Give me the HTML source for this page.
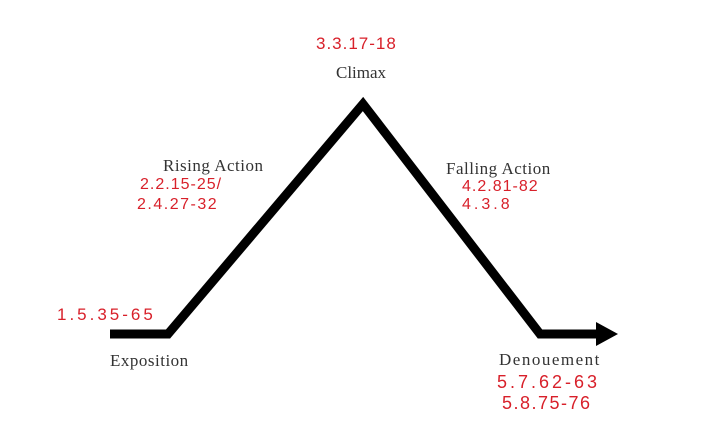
<!DOCTYPE html>
<html><head><style>
html,body{margin:0;padding:0;background:#fff;}
.w{position:relative;width:720px;height:434px;overflow:hidden;background:#fff;}
.t{position:absolute;font-family:"Liberation Serif",serif;color:#333;font-size:17px;white-space:nowrap;}
.r{position:absolute;font-family:"Liberation Sans",sans-serif;color:#d8202a;font-size:15px;white-space:nowrap;letter-spacing:1px;}
</style></head><body><div class="w">
<svg width="720" height="434" style="position:absolute;left:0;top:0">
<polyline points="110,334 168,334 363,104 540,334 598,334" fill="none" stroke="#000" stroke-width="9" stroke-linejoin="miter"/>
<polygon points="596,322 618,334 596,346" fill="#000"/>
</svg>
<div class="r" style="left:316px;top:34px;font-size:17px">3.3.17-18</div>
<div class="t" style="left:336px;top:63px">Climax</div>
<div class="t" style="left:163px;top:156px;letter-spacing:0.5px">Rising Action</div>
<div class="r" style="left:140px;top:176px;font-size:16px">2.2.15-25/</div>
<div class="r" style="left:137px;top:196px;font-size:16px;letter-spacing:1.5px">2.4.27-32</div>
<div class="t" style="left:446px;top:159px;letter-spacing:0.5px">Falling Action</div>
<div class="r" style="left:462px;top:178px;font-size:16px">4.2.81-82</div>
<div class="r" style="left:462px;top:196px;font-size:16px;letter-spacing:3px">4.3.8</div>
<div class="r" style="left:57px;top:305px;font-size:17px;letter-spacing:3px">1.5.35-65</div>
<div class="t" style="left:110px;top:351px;letter-spacing:0.5px">Exposition</div>
<div class="t" style="left:499px;top:350px;letter-spacing:1.5px">Denouement</div>
<div class="r" style="left:497px;top:372px;font-size:18px;letter-spacing:3px">5.7.62-63</div>
<div class="r" style="left:502px;top:393px;font-size:18px;letter-spacing:1.5px">5.8.75-76</div>
</div></body></html>
